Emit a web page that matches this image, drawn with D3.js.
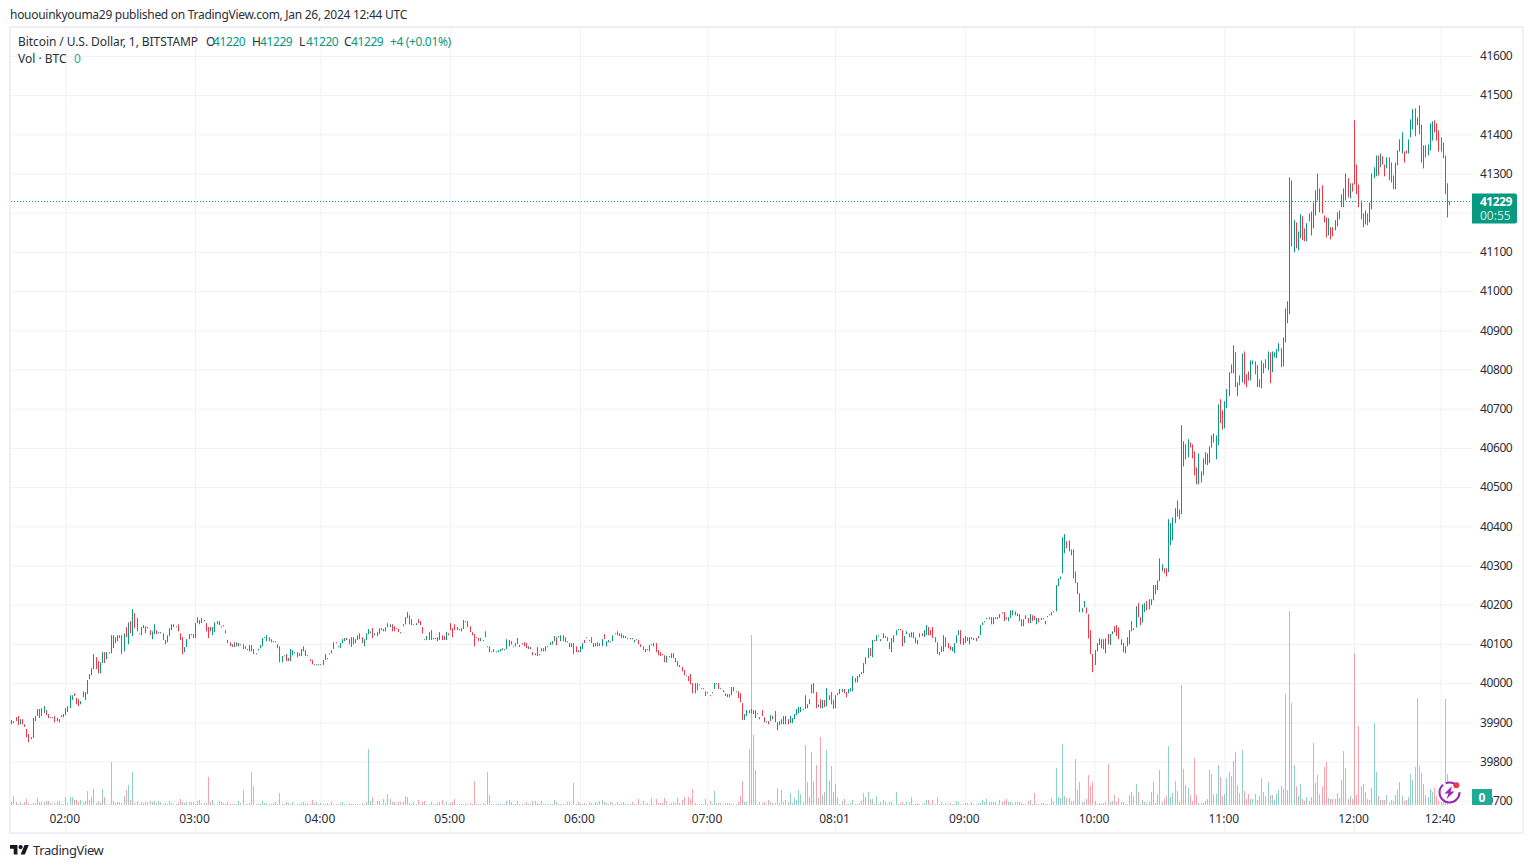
<!DOCTYPE html>
<html>
<head>
<meta charset="utf-8">
<style>
html,body{margin:0;padding:0;background:#fff;}
svg{display:block;}
text{font-family:"Noto Sans",sans-serif;}
</style>
<script src="https://cdn.jsdelivr.net/npm/d3@7"></script>
</head>
<body>
<div id="chart"></div>
<script>
const barHigh = [
39906,39903,39913,39916,39908,39908,39895,39883,39870,39862,
39911,39916,39934,39934,39936,39941,39931,39921,39913,39913,
39916,39911,39908,39918,39921,39936,39941,39969,39969,39974,
39962,39959,39954,39979,39977,40008,40023,40038,40074,40066,
40056,40053,40079,40079,40079,40079,40122,40122,40117,40122,
40122,40122,40127,40143,40155,40158,40189,40178,40166,40127,
40143,40148,40145,40143,40135,40132,40150,40135,40130,40130,
40127,40110,40122,40140,40150,40150,40145,40150,40127,40117,
40092,40112,40125,40125,40125,40153,40168,40161,40166,40161,
40153,40143,40143,40143,40155,40158,40158,40145,40148,40135,
40110,40104,40099,40104,40104,40102,40099,40099,40094,40087,
40097,40097,40087,40076,40087,40097,40115,40117,40122,40117,
40112,40107,40107,40099,40094,40069,40071,40074,40064,40087,
40084,40079,40079,40076,40087,40094,40084,40071,40061,40059,
40048,40048,40048,40048,40059,40074,40064,40076,40084,40104,
40104,40094,40102,40112,40115,40115,40112,40117,40117,40112,
40122,40127,40117,40112,40127,40138,40132,40140,40127,40130,
40140,40140,40138,40143,40153,40150,40150,40145,40140,40138,
40130,40150,40168,40181,40173,40163,40150,40153,40163,40158,
40143,40112,40120,40130,40135,40115,40115,40117,40130,40122,
40120,40130,40127,40153,40140,40150,40143,40138,40140,40161,
40158,40158,40145,40130,40125,40117,40115,40115,40110,40132,
40094,40094,40081,40087,40081,40084,40087,40089,40087,40112,
40110,40107,40094,40102,40115,40097,40102,40104,40102,40094,
40092,40079,40076,40092,40074,40089,40089,40094,40094,40104,
40107,40120,40117,40120,40122,40122,40117,40107,40102,40102,
40102,40094,40084,40094,40102,40110,40117,40110,40117,40102,
40102,40104,40102,40112,40125,40107,40110,40107,40122,40127,
40132,40127,40127,40122,40120,40115,40115,40115,40110,40112,
40110,40099,40094,40087,40087,40097,40099,40102,40102,40084,
40079,40074,40071,40069,40069,40076,40076,40064,40056,40046,
40041,40033,40020,40018,40023,40000,40000,40000,39997,39987,
39987,39979,39977,39969,39977,40000,40000,40000,39987,39982,
39974,39972,39972,39990,39990,39979,39979,39974,39949,39921,
39931,39931,39934,39931,39931,39923,39913,39931,39913,39903,
39903,39918,39916,39929,39900,39903,39908,39916,39916,39908,
39916,39911,39921,39934,39939,39939,39934,39969,39946,39959,
39997,40000,39977,39946,39959,39957,39957,39987,39969,39977,
39957,39969,39974,39985,39985,39985,39977,39985,39987,40018,
40013,40018,40023,40028,40051,40066,40089,40089,40110,40110,
40122,40122,40112,40127,40120,40117,40104,40115,40122,40135,
40138,40138,40135,40120,40132,40127,40130,40130,40117,40110,
40127,40127,40135,40148,40143,40135,40143,40117,40104,40079,
40094,40122,40117,40102,40094,40092,40102,40122,40135,40135,
40115,40120,40117,40117,40117,40115,40115,40120,40148,40155,
40158,40166,40168,40168,40168,40168,40168,40176,40181,40181,
40168,40168,40186,40186,40183,40178,40176,40163,40163,40173,
40166,40176,40173,40171,40166,40166,40166,40166,40158,40171,
40176,40181,40183,40250,40267,40272,40372,40380,40362,40364,
40341,40341,40285,40257,40229,40191,40209,40193,40176,40135,
40074,40084,40102,40114,40112,40112,40114,40125,40125,40132,
40145,40148,40142,40112,40102,40094,40117,40135,40158,40140,
40196,40204,40168,40201,40204,40209,40214,40214,40250,40250,
40262,40318,40303,40293,40293,40418,40408,40423,40446,40466,
40443,40658,40617,40609,40622,40614,40609,40591,40550,40586,
40540,40573,40589,40586,40604,40632,40637,40632,40711,40724,
40696,40719,40750,40793,40813,40862,40844,40767,40785,40841,
40846,40788,40795,40823,40823,40821,40811,40775,40823,40816,
40826,40846,40844,40846,40844,40852,40867,40854,40882,40956,
40974,41290,41282,41181,41175,41152,41196,41191,41160,41173,
41198,41203,41226,41257,41300,41262,41270,41193,41188,41186,
41163,41163,41181,41201,41206,41247,41262,41300,41288,41275,
41275,41436,41323,41272,41231,41198,41206,41198,41226,41300,
41316,41346,41346,41351,41344,41323,41341,41341,41328,41295,
41328,41359,41387,41405,41356,41359,41387,41438,41464,41466,
41443,41474,41425,41372,41372,41374,41428,41433,41436,41428,
41410,41392,41379,41346,41275,41229];

const barLow = [
39895,39898,39903,39893,39895,39895,39888,39862,39849,39857,
39860,39903,39916,39911,39916,39923,39918,39911,39911,39911,
39900,39903,39900,39913,39913,39918,39926,39936,39957,39967,
39946,39941,39946,39964,39957,39972,40010,40020,40036,40036,
40025,40025,40051,40051,40061,40076,40076,40089,40102,40107,
40115,40074,40081,40117,40099,40127,40120,40140,40132,40125,
40122,40140,40127,40140,40122,40112,40125,40125,40127,40127,
40110,40099,40104,40120,40135,40143,40143,40132,40110,40074,
40079,40092,40112,40122,40115,40115,40153,40150,40153,40158,
40132,40115,40132,40122,40130,40150,40148,40144,40145,40127,
40102,40094,40092,40092,40094,40094,40097,40087,40087,40084,
40081,40081,40074,40074,40084,40089,40094,40115,40107,40107,
40104,40104,40104,40089,40053,40053,40069,40056,40056,40056,
40071,40076,40066,40069,40069,40081,40069,40069,40056,40048,
40046,40046,40046,40046,40046,40059,40061,40074,40076,40087,
40102,40092,40089,40102,40107,40110,40099,40092,40099,40102,
40110,40112,40102,40094,40110,40125,40127,40115,40122,40120,
40125,40135,40132,40132,40143,40143,40132,40132,40138,40130,
40127,40145,40150,40166,40150,40148,40148,40148,40153,40148,
40127,40110,40110,40110,40110,40112,40112,40107,40110,40110,
40110,40110,40122,40135,40117,40135,40135,40135,40132,40138,
40155,40143,40130,40122,40094,40115,40107,40107,40107,40117,
40092,40079,40079,40079,40079,40079,40081,40084,40084,40087,
40094,40099,40092,40094,40099,40092,40099,40094,40089,40087,
40087,40071,40071,40069,40071,40081,40081,40081,40092,40097,
40099,40107,40097,40117,40107,40107,40104,40104,40092,40092,
40074,40079,40079,40079,40087,40102,40115,40107,40102,40092,
40094,40094,40094,40094,40112,40094,40104,40104,40107,40125,
40122,40120,40115,40115,40115,40112,40112,40112,40104,40110,
40099,40092,40084,40079,40084,40081,40097,40094,40079,40071,
40069,40071,40053,40053,40066,40064,40064,40053,40043,40041,
40030,40020,40018,40005,39997,39974,39974,39982,39995,39985,
39985,39967,39974,39967,39974,39985,39997,39985,39985,39977,
39967,39964,39964,39969,39979,39977,39962,39951,39906,39906,
39916,39923,39923,39921,39911,39921,39908,39916,39900,39900,
39895,39903,39908,39900,39880,39893,39895,39895,39895,39895,
39898,39898,39908,39918,39923,39926,39931,39934,39936,39946,
39974,39974,39936,39939,39936,39936,39939,39941,39957,39946,
39934,39936,39969,39972,39977,39974,39964,39974,39979,39979,
40002,40002,40015,40023,40025,40048,40064,40069,40066,40107,
40107,40120,40107,40115,40115,40107,40087,40079,40104,40122,
40135,40135,40094,40102,40125,40117,40117,40115,40102,40099,
40117,40120,40117,40122,40122,40122,40115,40104,40074,40071,
40079,40081,40092,40089,40084,40081,40076,40102,40122,40099,
40097,40102,40107,40099,40112,40110,40107,40115,40122,40148,
40155,40163,40163,40150,40150,40163,40163,40166,40178,40158,
40163,40158,40166,40173,40173,40171,40158,40145,40145,40163,
40153,40153,40158,40161,40150,40155,40161,40163,40150,40168,
40173,40173,40181,40183,40247,40265,40280,40331,40344,40336,
40326,40267,40255,40227,40181,40181,40193,40178,40114,40074,
40028,40046,40081,40097,40089,40086,40076,40099,40097,40125,
40130,40120,40112,40097,40079,40076,40094,40099,40132,40135,
40142,40168,40148,40155,40181,40186,40188,40199,40211,40227,
40237,40260,40285,40280,40272,40283,40352,40364,40408,40425,
40418,40431,40553,40571,40576,40601,40573,40530,40507,40507,
40512,40530,40558,40556,40561,40601,40614,40571,40607,40663,
40647,40650,40701,40732,40790,40790,40755,40732,40760,40767,
40762,40755,40772,40772,40813,40788,40755,40755,40752,40790,
40803,40798,40765,40793,40831,40829,40846,40806,40808,40869,
40918,40941,41114,41099,41109,41104,41135,41130,41127,41127,
41178,41142,41160,41193,41231,41201,41198,41175,41137,41142,
41132,41140,41155,41165,41183,41214,41214,41231,41239,41237,
41254,41272,41247,41214,41183,41163,41170,41168,41175,41209,
41288,41293,41295,41316,41323,41293,41313,41283,41277,41260,
41260,41321,41356,41351,41328,41351,41351,41392,41413,41395,
41423,41400,41328,41313,41341,41346,41359,41384,41405,41384,
41356,41356,41339,41247,41188,41220];

const barUp = [
1,1,0,0,1,0,0,0,0,0, 1,0,1,0,1,1,0,0,1,1, 0,1,1,1,1,1,1,1,1,0, 0,0,1,0,1,1,1,1,1,0,
0,1,1,0,1,1,1,1,0,1, 1,0,1,0,1,0,1,0,0,1, 1,1,0,1,0,1,1,0,1,1, 0,0,1,1,1,1,1,0,0,0,
1,1,1,0,0,1,1,1,1,1, 0,0,0,1,1,1,0,1,0,0, 0,0,0,1,0,1,1,0,0,1, 1,0,0,1,1,1,1,1,1,0,
0,1,1,0,0,1,1,0,0,1, 1,1,0,1,1,1,0,1,0,0, 0,1,1,1,1,1,1,1,1,1, 0,1,1,1,1,0,0,0,1,1,
1,0,0,1,1,1,1,0,1,1, 1,0,0,1,1,1,0,0,0,0, 0,1,1,1,0,1,1,1,0,0, 0,0,1,1,0,1,1,1,1,0,
0,1,0,0,0,0,1,1,1,1, 1,0,0,0,0,0,0,1,0,0, 1,0,0,0,1,1,1,1,0,1, 1,0,1,1,0,1,0,0,0,0,
1,0,0,0,1,1,0,1,1,1, 1,1,0,1,1,0,0,0,1,0, 0,0,0,1,1,0,1,1,0,0, 1,0,0,1,0,1,1,0,1,1,
0,0,0,0,1,0,1,0,1,1, 0,0,0,0,1,1,1,1,0,0, 0,0,0,1,1,1,0,0,0,1, 0,0,1,0,0,0,1,0,1,1,
1,0,1,0,1,1,1,0,0,1, 0,0,1,1,0,1,0,0,0,1, 1,0,1,0,0,1,1,0,0,1, 0,1,0,0,1,1,1,1,0,0,
1,1,1,1,1,1,0,1,1,1, 1,1,0,1,0,1,0,1,1,0, 0,1,0,1,1,0,0,1,1,1, 0,1,1,1,1,1,1,0,1,0,
1,1,1,1,0,0,0,0,1,1, 1,0,0,1,1,0,1,0,0,1, 0,0,1,1,0,0,0,0,0,1, 0,1,0,0,0,1,1,1,1,0,
0,1,1,1,0,1,0,1,1,1, 1,1,1,0,1,0,1,1,0,0, 0,1,1,1,0,0,0,0,1,0, 0,1,0,0,1,0,1,1,1,1,
1,1,1,1,1,1,1,1,0,1, 0,0,0,0,0,1,1,0,0,0, 0,1,1,1,0,0,1,0,1,1, 0,0,0,0,0,1,1,1,0,0,
1,0,0,1,1,0,1,1,1,1, 1,1,1,0,0,1,1,1,1,0, 0,1,1,1,1,0,0,0,0,1, 1,1,0,1,1,1,0,1,1,0,
0,1,1,1,0,1,0,1,0,1, 0,0,0,1,1,0,0,0,1,0, 0,1,0,1,1,1,1,0,1,1, 1,1,0,1,0,1,1,0,0,1,
1,1,1,1,0,0,0,0,0,1, 0,0,1,1,1,0,1,1,0,1, 0,0,0,0,0,0,1,0,1,1, 1,1,0,1,0,0,1,0,0,0,
1,1,1,1,0,0,1,1,1,0, 1,0,0,1,0,1,1,1,0,0, 0,0,0,0,0,1];

const barVolume = [
3,9,3,1,3,1,3,6,2,1, 2,2,7,3,3,3,4,4,2,1, 2,3,4,1,1,8,2,8,8,5, 5,3,5,3,4,14,5,8,16,2,
4,2,16,8,1,1,43,4,2,3, 3,2,9,15,20,5,33,2,4,1, 3,2,3,3,4,3,4,2,4,3, 1,2,1,4,2,1,1,2,6,3,
2,3,3,3,3,1,4,5,2,2, 2,28,3,5,1,1,4,3,2,1, 3,1,1,1,1,4,2,15,1,1, 2,33,19,1,1,1,4,2,2,1,
1,2,3,1,12,1,1,3,2,1, 3,1,1,1,2,3,1,2,1,5, 2,3,1,2,1,1,2,1,3,1, 1,1,2,3,1,1,2,
1,1,1,1,1,2,1,3,56,4, 8,1,4,4,1,6,2,11,6,3, 3,1,3,3,3,9,8,2,1,3, 1,5,1,3,4,1,1,3,1,1,
2,3,5,1,3,1,2,3,6,1, 1,1,1,1,1,2,1,24,1,1, 1,2,1,33,10,1,1,1,1,1, 1,1,4,5,3,1,1,4,1,1,
1,3,1,1,4,4,2,1,4,1, 1,1,1,1,5,3,1,1,1,1, 3,3,1,22,1,3,1,1,2,1, 3,2,1,3,2,4,5,3,2,1,
3,2,1,3,1,2,3,1,1,1, 3,1,1,6,1,4,1,2,1,7, 1,6,2,2,2,7,4,1,2,3, 2,7,2,5,8,1,8,6,16,2,
1,1,1,1,6,1,4,1,14,2, 2,2,1,2,2,2,1,1,1,3,
9,24,3,3,56,170,70,35,1,3, 2,3,1,5,3,2,2,17,2,15, 3,5,3,12,2,7,5,15,11,3, 60,23,8,53,23,40,7,68,10,13,
55,24,39,13,21,8,1,4,6,1, 1,2,5,1,1,2,4,12,8,13, 6,6,1,9,1,3,5,3,1,3, 3,1,13,1,2,3,1,3,3,8,
1,1,2,1,1,2,5,5,1,5, 1,8,1,3,1,2,1,2,1,1, 4,3,1,1,2,2,1,3,1,1, 2,2,5,3,6,3,3,3,3,1,
5,3,4,6,3,3,2,3,3,3, 2,1,1,4,5,1,12,1,1,2, 2,1,1,1,7,3,37,8,7,61, 9,7,7,4,4,46,15,23,3,3, 6,30,
19,23,4,1,2,1,2,3,41,3, 4,10,3,7,3,3,1,1,10,13, 9,21,13,1,5,3,2,3,13,23, 2,11,35,3,6,9,59,8,12,24,
14,3,120,36,20,17,10,4,47,10, 2,2,2,4,6,35,31,11,11,40, 28,9,11,27,33,29,44,53,20,12,
55,14,6,11,6,6,11,5,9,27, 13,9,23,10,10,5,11,15,19,16, 111,15,194,102,40,19,9,21,6,4,
8,4,8,62,22,30,11,18,38,43, 7,6,6,6,12,7,25,54,37,6, 9,6,152,10,79,19,21,13,6,5,
17,82,33,9,5,5,5,10,3,5, 4,10,15,23,9,4,5,8,31,25, 38,107,39,32,21,10,8,16,13,17,
9,4,3,3,106,31,0];

const gridPrices = [41600,41500,41400,41300,41200,41100,41000,40900,40800,40700,40600,40500,40400,40300,40200,40100,40000,39900,39800,39700];
const labelPrices = [41600,41500,41400,41300,41100,41000,40900,40800,40700,40600,40500,40400,40300,40200,40100,40000,39900,39800,39700];
const timeTickBars = [25,85,143,203,263,322,381,441,501,561,621,661];
const timeTickLabels = ["02:00","03:00","04:00","05:00","06:00","07:00","08:01","09:00","10:00","11:00","12:00","12:40"];
const lastPrice = 41229;

const GREEN="#089981", RED="#F23645", GRID="#f1f2f5", FRAME="#eef0f5", TEXT="#2a2e39";
const W=1534,H=868;
const L=11,R=1472,T=28,B=832;

const svg=d3.select("#chart").append("svg").attr("width",W).attr("height",H);
const x=d3.scaleLinear().domain([0,barHigh.length-1]).range([11.2,1449.2]);
const y=d3.scaleLinear().domain([39700,41600]).range([800.7,55.9]);
const vy=d3.scaleLinear().domain([0,194]).range([805,611]);

// frame
svg.append("rect").attr("x",10).attr("y",27).attr("width",1513).attr("height",806)
  .attr("fill","#fff").attr("stroke",FRAME).attr("stroke-width",2);

// grid through axes
const gridY=svg.append("g").attr("transform",`translate(${L},0)`)
  .call(d3.axisRight(y).tickValues(gridPrices).tickSize(R-L).tickFormat(""));
gridY.select(".domain").remove();
gridY.selectAll("line").attr("stroke",GRID);
const gridX=svg.append("g").attr("transform",`translate(0,${T})`)
  .call(d3.axisBottom(x).tickValues(timeTickBars).tickSize(B-T).tickFormat(""));
gridX.select(".domain").remove();
gridX.selectAll("line").attr("stroke",GRID);

// volume
svg.append("g").selectAll("rect").data(barVolume).join("rect")
  .attr("x",(d,i)=>Math.round(x(i)))
  .attr("width",1)
  .attr("y",d=>vy(d))
  .attr("height",d=>vy(0)-vy(d))
  .attr("fill",(d,i)=>barUp[i]?GREEN:RED)
  .attr("fill-opacity",0.45);

// price sticks
svg.append("g").selectAll("rect").data(barHigh).join("rect")
  .attr("x",(d,i)=>Math.round(x(i)))
  .attr("width",1)
  .attr("y",(d,i)=>y(barHigh[i]))
  .attr("height",(d,i)=>Math.max(1,y(barLow[i])-y(barHigh[i])))
  .attr("fill",(d,i)=>barUp[i]?GREEN:RED);

// last price line
svg.append("line").attr("x1",L).attr("x2",R).attr("y1",Math.round(y(lastPrice))+0.5).attr("y2",Math.round(y(lastPrice))+0.5)
  .attr("stroke",GREEN).attr("stroke-dasharray","1,2");

// right axis
const axisY=svg.append("g").attr("transform",`translate(1480,0)`)
  .call(d3.axisRight(y).tickValues(labelPrices).tickSize(0).tickPadding(0).tickFormat(d3.format("d")));
axisY.select(".domain").remove();
axisY.selectAll("text").attr("font-family",'"Noto Sans",sans-serif').attr("font-size",12).attr("fill",TEXT).attr("letter-spacing",-0.4);

// bottom axis
const axisX=svg.append("g").attr("transform",`translate(-1,814)`)
  .call(d3.axisBottom(x).tickValues(timeTickBars).tickSize(0).tickPadding(0)
    .tickFormat((d,i)=>timeTickLabels[i]));
axisX.select(".domain").remove();
axisX.selectAll("text").attr("font-family",'"Noto Sans",sans-serif').attr("font-size",12).attr("fill",TEXT);

// last price badge
svg.append("path").attr("d","M1472 193.5H1515a2 2 0 0 1 2 2V221.5a2 2 0 0 1 -2 2H1472Z").attr("fill",GREEN);
svg.append("text").attr("x",1480).attr("y",205.5).attr("font-size",12).attr("font-weight",700).attr("letter-spacing",-0.5).attr("fill","#fff").text(lastPrice);
svg.append("text").attr("x",1480).attr("y",219.5).attr("font-size",12).attr("fill","#fff").attr("fill-opacity",0.8).text("00:55");

// volume badge
svg.append("rect").attr("x",1472).attr("y",789).attr("width",20).attr("height",16).attr("fill","#22ab94");
svg.append("text").attr("x",1482).attr("y",801.5).attr("text-anchor","middle").attr("font-size",12).attr("font-weight",700).attr("fill","#fff").text("0");

// flash icon
const icon=svg.append("g").attr("transform","translate(1449.5,792.5)");
icon.append("circle").attr("r",10).attr("fill","#fff").attr("stroke","#9c27b0").attr("stroke-width",2).attr("stroke-dasharray","40 3 13 6");
icon.append("path").attr("d","M2.5 -6.5 L-5 1 L-1 1 L-3 6.5 L5 -1 L1 -1 Z").attr("fill","#9c27b0");
icon.append("circle").attr("cx",6.8).attr("cy",-7.3).attr("r",3).attr("fill","#f23645");

// header
svg.append("text").attr("x",10).attr("y",19).attr("font-size",12).attr("letter-spacing",-0.28).attr("fill",TEXT)
  .text("hououinkyouma29 published on TradingView.com, Jan 26, 2024 12:44 UTC");

// legend
const legendBits=[
  [18,"Bitcoin / U.S. Dollar, 1, BITSTAMP",TEXT,-0.07],
  [206,"O",TEXT,0],[213,"41220",GREEN,-0.4],
  [252,"H",TEXT,0],[260,"41229",GREEN,-0.4],
  [299,"L",TEXT,0],[306,"41220",GREEN,-0.4],
  [344,"C",TEXT,0],[351,"41229",GREEN,-0.4],
  [390,"+4 (+0.01%)",GREEN,-0.36]];
svg.append("g").selectAll("text").data(legendBits).join("text")
  .attr("x",d=>d[0]).attr("y",46).attr("font-size",12).attr("fill",d=>d[2]).attr("letter-spacing",d=>d[3]).text(d=>d[1]);
svg.append("text").attr("x",18).attr("y",63).attr("font-size",12).attr("fill",TEXT).text("Vol · BTC");
svg.append("text").attr("x",74).attr("y",63).attr("font-size",12).attr("fill","#22ab94").text("0");

// logo
const logo=svg.append("g").attr("transform","translate(10,842.8) scale(0.53)").attr("fill","#131722");
logo.append("path").attr("d","M14 22H7V11H0V4h14v18zM28 22h-8l7.5-18h8L28 22z");
logo.append("circle").attr("cx",20).attr("cy",8).attr("r",4);
svg.append("text").attr("x",33).attr("y",855).attr("font-size",13).attr("letter-spacing",-0.4).attr("fill","#2a2e39").text("TradingView");
</script>
</body>
</html>
